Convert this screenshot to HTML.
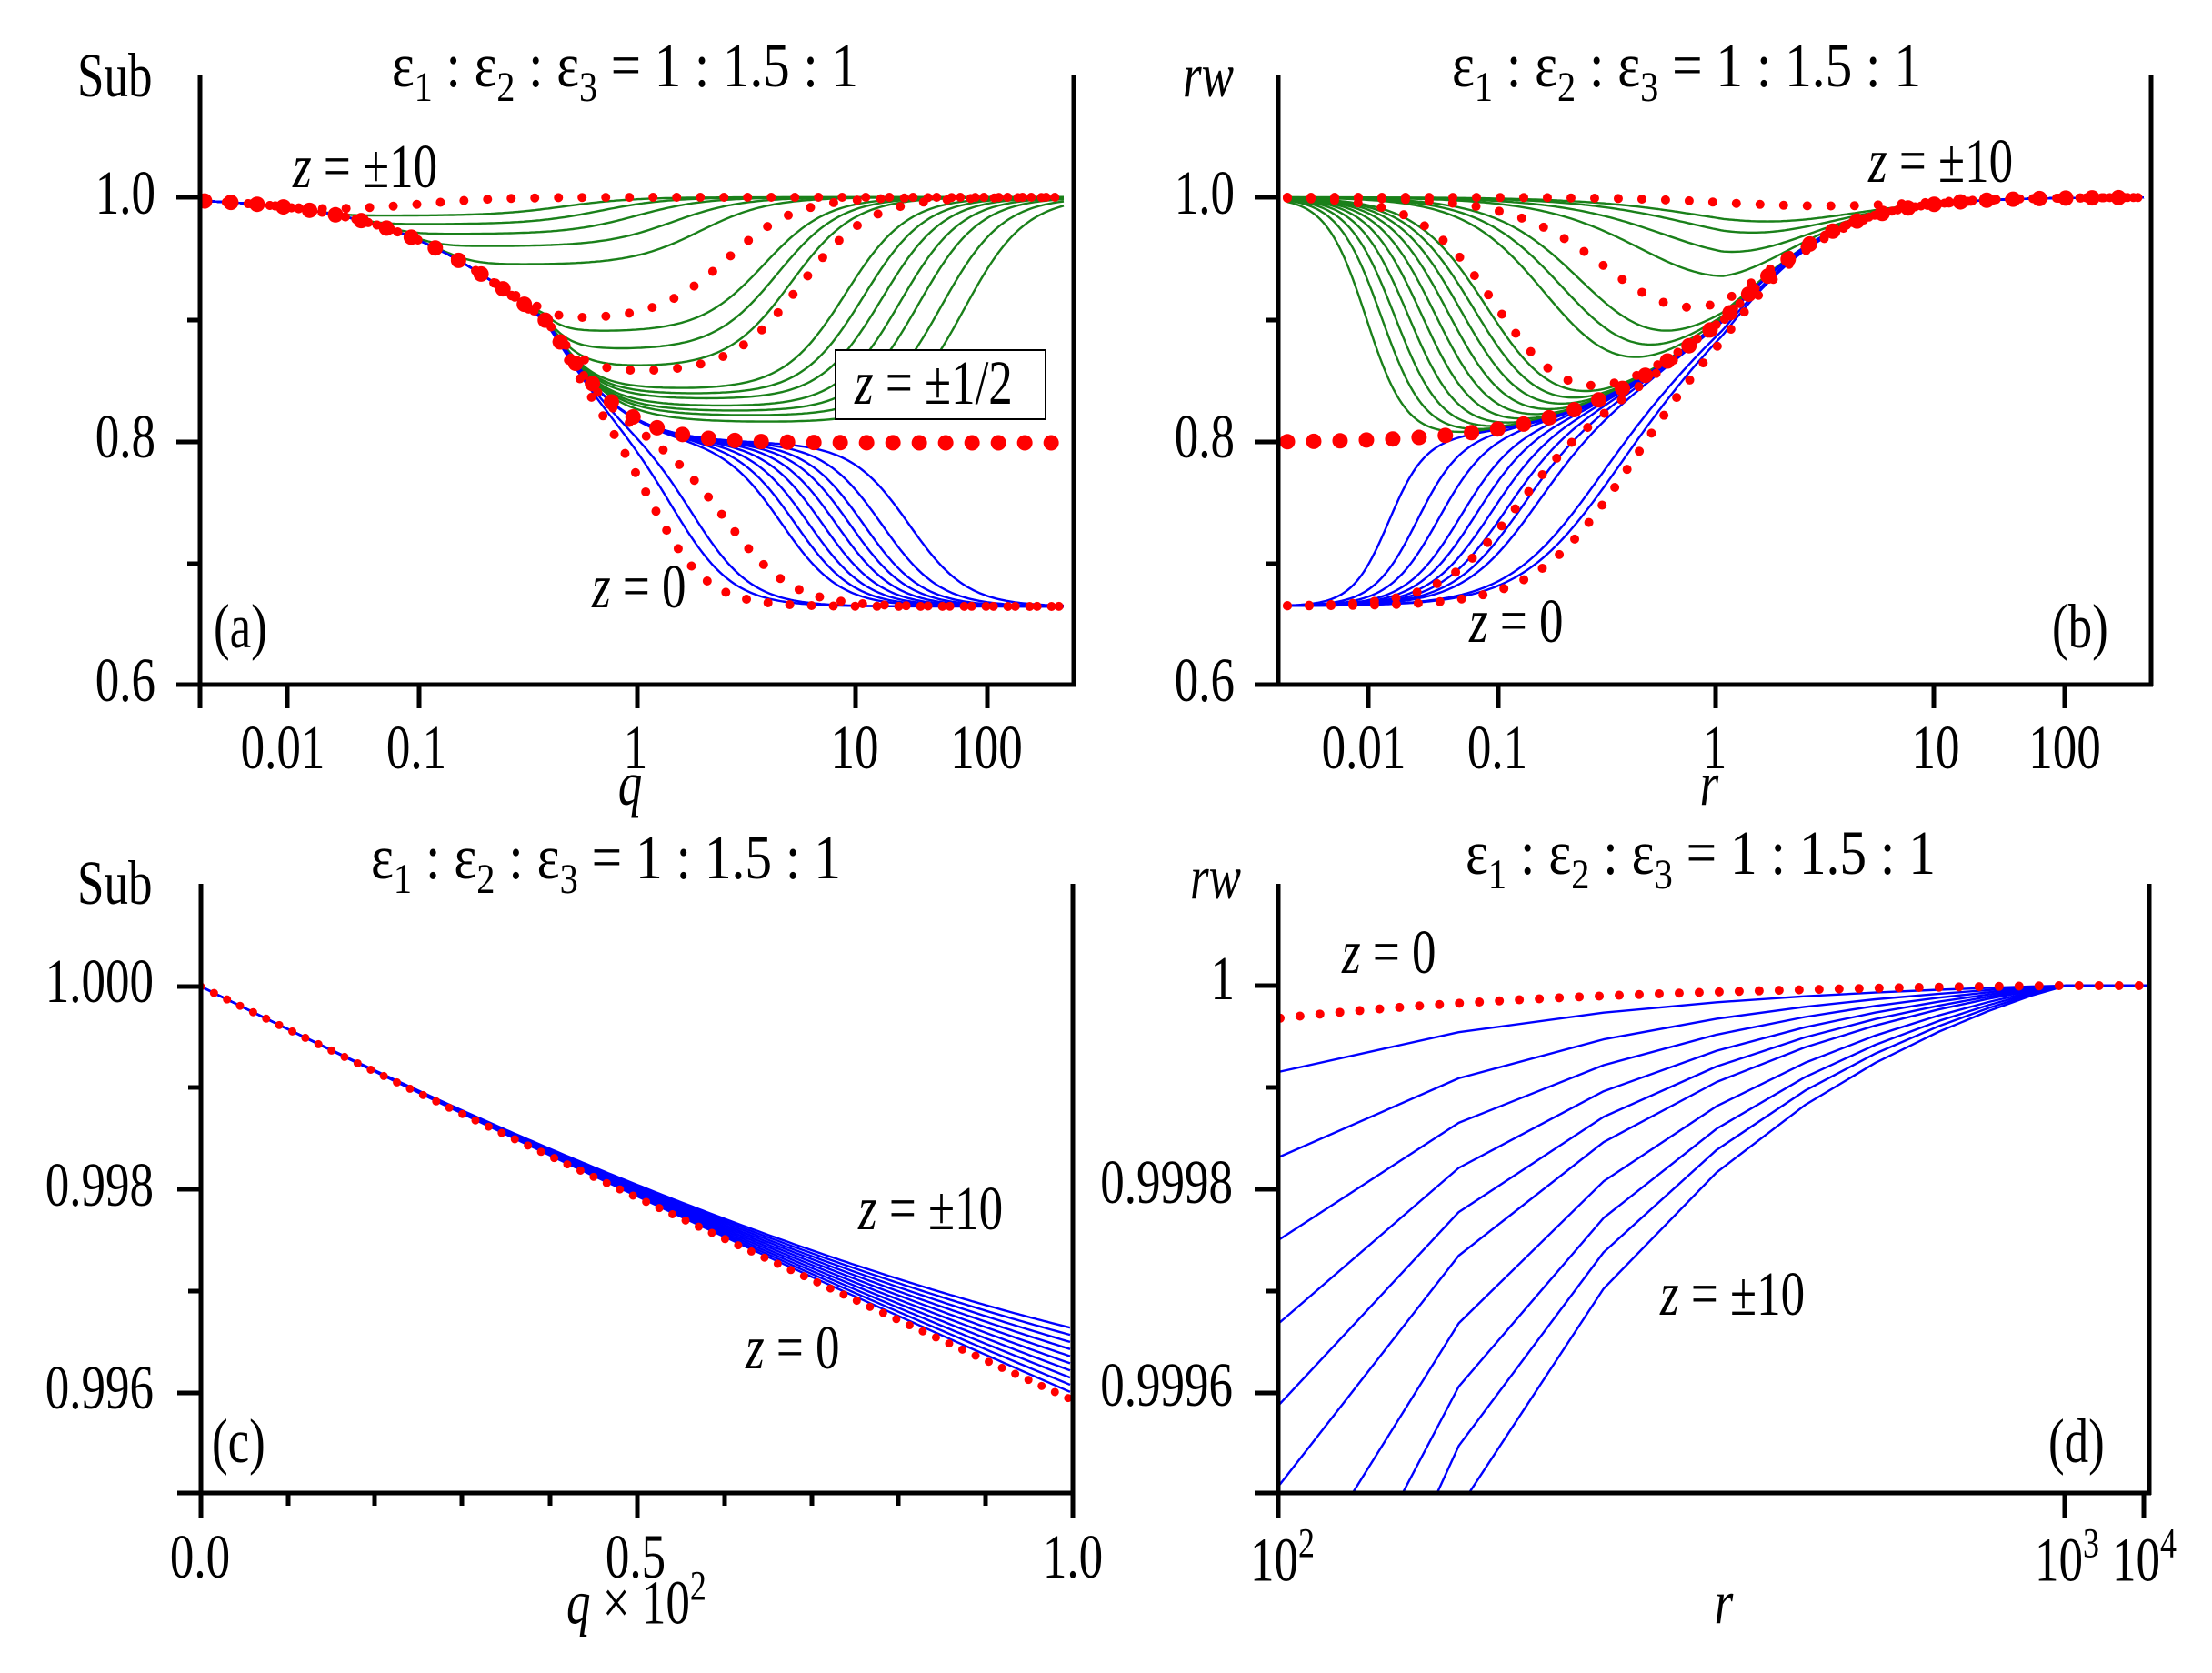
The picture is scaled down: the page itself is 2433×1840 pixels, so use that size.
<!DOCTYPE html>
<html><head><meta charset="utf-8"><style>
html,body{margin:0;padding:0;background:#fff;width:2433px;height:1840px;overflow:hidden}
svg{display:block}
text{font-family:"Liberation Serif",serif;fill:#000;transform-box:fill-box;transform-origin:50% 78%;transform:scaleY(1.3)}
.t{font-size:53px}
.i{font-style:italic}
</style></head><body>
<svg id="s" xmlns="http://www.w3.org/2000/svg" width="2433" height="1840" viewBox="0 0 2433 1840">
<defs>
<clipPath id="ca"><rect x="222" y="60" width="958" height="692"/></clipPath>
<clipPath id="cb"><rect x="1408" y="60" width="956" height="692"/></clipPath>
<clipPath id="cc"><rect x="222" y="960" width="957" height="681"/></clipPath>
<clipPath id="cd"><rect x="1408" y="960" width="955" height="681"/></clipPath>
</defs>
<g id="ga" clip-path="url(#ca)"></g>
<g id="gb" clip-path="url(#cb)"></g>
<g id="gc" clip-path="url(#cc)"></g>
<g id="gd" clip-path="url(#cd)"></g>

<g stroke="#000" stroke-width="5" fill="none">
<path d="M220 82V779 M1181 82V755 M194 753H1183"/>
<path d="M194 217H220 M194 486H220 M206 352H220 M206 620H220"/>
<path d="M316 753V779 M461 753V779 M701 753V779 M941 753V779 M1086 753V779"/>
<path d="M1406 82V755 M2366 82V755 M1380 753H2368"/>
<path d="M1380 217H1406 M1380 486H1406 M1392 352H1406 M1392 620H1406"/>
<path d="M1505 753V779 M1648 753V779 M1887 753V779 M2127 753V779 M2271 753V779"/>
<path d="M221 972V1670 M1180 972V1670 M195 1642H1182"/>
<path d="M195 1085H221 M195 1308H221 M195 1532H221 M207 1196H221 M207 1420H221"/>
<path d="M701 1642V1670 M317 1642V1656 M412 1642V1656 M508 1642V1656 M605 1642V1656 M797 1642V1656 M893 1642V1656 M988 1642V1656 M1084 1642V1656"/>
<path d="M1406 972V1670 M2364 972V1644 M1380 1642H2366"/>
<path d="M1380 1084H1406 M1380 1308H1406 M1380 1532H1406 M1392 1196H1406 M1392 1420H1406"/>
<path d="M2271 1642V1670 M2358 1642V1670"/>
</g>

<g class="t">
<text x="431" y="97" textLength="513" lengthAdjust="spacingAndGlyphs">ε<tspan dy="12" font-size="36">1</tspan><tspan dy="-12"> : ε</tspan><tspan dy="12" font-size="36">2</tspan><tspan dy="-12"> : ε</tspan><tspan dy="12" font-size="36">3</tspan><tspan dy="-12"> = 1 : 1.5 : 1</tspan></text>
<text x="1597" y="97" textLength="516" lengthAdjust="spacingAndGlyphs">ε<tspan dy="12" font-size="36">1</tspan><tspan dy="-12"> : ε</tspan><tspan dy="12" font-size="36">2</tspan><tspan dy="-12"> : ε</tspan><tspan dy="12" font-size="36">3</tspan><tspan dy="-12"> = 1 : 1.5 : 1</tspan></text>
<text x="408" y="968" textLength="517" lengthAdjust="spacingAndGlyphs">ε<tspan dy="12" font-size="36">1</tspan><tspan dy="-12"> : ε</tspan><tspan dy="12" font-size="36">2</tspan><tspan dy="-12"> : ε</tspan><tspan dy="12" font-size="36">3</tspan><tspan dy="-12"> = 1 : 1.5 : 1</tspan></text>
<text x="1612" y="963" textLength="517" lengthAdjust="spacingAndGlyphs">ε<tspan dy="12" font-size="36">1</tspan><tspan dy="-12"> : ε</tspan><tspan dy="12" font-size="36">2</tspan><tspan dy="-12"> : ε</tspan><tspan dy="12" font-size="36">3</tspan><tspan dy="-12"> = 1 : 1.5 : 1</tspan></text>

<text x="85" y="106">Sub</text>
<text x="171" y="235" text-anchor="end">1.0</text>
<text x="171" y="503" text-anchor="end">0.8</text>
<text x="171" y="771" text-anchor="end">0.6</text>
<text x="311" y="845" text-anchor="middle">0.01</text>
<text x="458" y="845" text-anchor="middle">0.1</text>
<text x="699" y="845" text-anchor="middle">1</text>
<text x="940" y="845" text-anchor="middle">10</text>
<text x="1085" y="845" text-anchor="middle">100</text>
<text x="693" y="885" text-anchor="middle" class="i">q</text>
<text x="322" y="206"><tspan class="i">z</tspan> = ±10</text>
<rect x="919" y="385" width="231" height="76" fill="#fff" stroke="#000" stroke-width="2"/>
<text x="940" y="444"><tspan class="i">z</tspan> = ±1/2</text>
<text x="651" y="668"><tspan class="i">z</tspan> = 0</text>
<text x="235" y="712">(a)</text>

<text x="1301" y="106" class="i">rw</text>
<text x="1358" y="235" text-anchor="end">1.0</text>
<text x="1358" y="503" text-anchor="end">0.8</text>
<text x="1358" y="771" text-anchor="end">0.6</text>
<text x="1500" y="845" text-anchor="middle">0.01</text>
<text x="1647" y="845" text-anchor="middle">0.1</text>
<text x="1886" y="845" text-anchor="middle">1</text>
<text x="2129" y="845" text-anchor="middle">10</text>
<text x="2271" y="845" text-anchor="middle">100</text>
<text x="1880" y="885" text-anchor="middle" class="i">r</text>
<text x="2055" y="200"><tspan class="i">z</tspan> = ±10</text>
<text x="1616" y="706"><tspan class="i">z</tspan> = 0</text>
<text x="2257" y="712">(b)</text>

<text x="85" y="994">Sub</text>
<text x="169" y="1102" text-anchor="end">1.000</text>
<text x="169" y="1326" text-anchor="end">0.998</text>
<text x="169" y="1549" text-anchor="end">0.996</text>
<text x="220" y="1735" text-anchor="middle">0.0</text>
<text x="699" y="1735" text-anchor="middle">0.5</text>
<text x="1180" y="1735" text-anchor="middle">1.0</text>
<text x="700" y="1785" text-anchor="middle"><tspan class="i">q</tspan> × 10<tspan dy="-20" font-size="36">2</tspan></text>
<text x="944" y="1352"><tspan class="i">z</tspan> = ±10</text>
<text x="820" y="1505"><tspan class="i">z</tspan> = 0</text>
<text x="233" y="1608">(c)</text>

<text x="1309" y="988" class="i">rw</text>
<text x="1358" y="1099" text-anchor="end">1</text>
<text x="1356" y="1323" text-anchor="end">0.9998</text>
<text x="1356" y="1546" text-anchor="end">0.9996</text>
<text x="1375" y="1738">10<tspan dy="-20" font-size="36">2</tspan></text>
<text x="2238" y="1738">10<tspan dy="-20" font-size="36">3</tspan></text>
<text x="2323" y="1738">10<tspan dy="-20" font-size="36">4</tspan></text>
<text x="1896" y="1785" text-anchor="middle" class="i">r</text>
<text x="1476" y="1070"><tspan class="i">z</tspan> = 0</text>
<text x="1826" y="1446"><tspan class="i">z</tspan> = ±10</text>
<text x="2253" y="1608">(d)</text>
</g>
</svg>
<script>
(function(){
var NS="http://www.w3.org/2000/svg";
var G="#1a801a",B="#0000ff",R="#ff0000";
function L(x,c,wl,wr){if(wr===undefined)wr=wl;return 1/(1+Math.exp(-(x-c)/(x<c?wl:wr)));}
function P(f,x0,x1,st){st=st||3;var d='';for(var x=x0;x<=x1+0.01;x+=st){var y=f(x);d+=(d?'L':'M')+x.toFixed(1)+' '+y.toFixed(1);}return d;}
function add(g,d,stroke,w,dash){var p=document.createElementNS(NS,'path');p.setAttribute('d',d);p.setAttribute('fill','none');p.setAttribute('stroke',stroke);p.setAttribute('stroke-width',w);p.setAttribute('stroke-linejoin','round');if(dash){p.setAttribute('stroke-dasharray',dash);p.setAttribute('stroke-linecap','round');}g.appendChild(p);}
var Y=function(v){return 217+(1-v)*1350;};
function smin(a,d){if(a<=0)return 0;return Math.pow(Math.pow(a,-8)+Math.pow(d,-8),-1/8);}

var ga=document.getElementById('ga');
var S1=function(x){return L(x,600,90,45);};
function gA(d,c,w){return function(x){return Y(1-smin(0.2*S1(x),d)*(1-L(x,c,w)));};}
function bA(c,w){return function(x){return Y(1-0.2*S1(x)-0.1333*L(x,c,w));};}
var x0=225,x1=1172;
[[0.015,620,38],[0.022,660,38],[0.03,700,38],[0.04,740,38],[0.055,770,38],[0.11,840,35],[0.125,855,35],[0.14,870,35],
 [0.16,930,34],[0.165,950,34],[0.17,970,34],[0.178,990,34],[0.184,1010,34],[0.19,1035,34],[0.2,1060,34]].forEach(function(a){add(ga,P(gA(a[0],a[1],a[2]),x0,x1),G,2.4);});
[[745,32],[765,32],[860,32],[875,32],[890,32],[905,32],[920,32],[935,32],[950,32],[970,32],[1000,32]].forEach(function(a){add(ga,P(bA(a[0],a[1]),x0,x1),B,2.4);});
add(ga,P(gA(0.01,470,40),x0,x1,2),R,10,"0 26");
add(ga,P(gA(0.1,800,38),x0,x1,2),R,10,"0 26");
add(ga,P(gA(0.145,880,38),x0,x1,2),R,10,"0 26");
add(ga,P(bA(720,30),x0,x1,2),R,10,"0 24");
add(ga,P(bA(800,36),x0,x1,2),R,10,"0 24");
add(ga,P(function(x){return Y(1-0.2*S1(x));},x0,x1,2),R,17,"0 29");

var gb=document.getElementById('gb');
var C=function(x){return 0.8+0.2*L(x,1895,88,66);};
function gBf(c,w){return function(x){return Y(1-(1-C(x))*L(x,c,w));};}
function bBf(c,w){return function(x){return Y(0.667+(C(x)-0.667)*L(x,c,w));};}
var u0=1416,u1=2358;
[[1503,22],[1520,24],[1535,26],[1550,28],[1565,30],[1580,32],[1595,34],[1610,36],[1625,38],[1640,40],[1712,46],[1735,48],[1760,50],[1860,60],[1910,64],[1960,66],[2000,68]].forEach(function(a){add(gb,P(gBf(a[0],a[1]),u0,u1),G,2.4);});
[[1527,20],[1558,24],[1581,27],[1604,30],[1620,32],[1636,34],[1651,36],[1667,38],[1682,40],[1735,48],[1750,50]].forEach(function(a){add(gb,P(bBf(a[0],a[1]),u0,u1),B,2.4);});
add(gb,P(gBf(1651,42),u0,u1,2),R,10,"0 26");
add(gb,P(gBf(1800,55),u0,u1,2),R,10,"0 26");
add(gb,P(gBf(2080,60),u0,u1,2),R,10,"0 26");
add(gb,P(bBf(1660,42),u0,u1,2),R,10,"0 24");
add(gb,P(bBf(1765,50),u0,u1,2),R,10,"0 24");
add(gb,P(function(x){return Y(C(x));},u0,u1,2),R,17,"0 29");

var gc=document.getElementById('gc');
var red=function(t){return 1085+473*t-18*t*t;};
for(var k=10;k>=1;k--){(function(D){add(gc,P(function(x){var t=(x-221)/959;return red(t)-D*Math.pow(t,2.5);},221,1180,4),B,2.4);})(k*7.9);}
add(gc,P(function(x){var t=(x-221)/959;return red(t);},221,1180,2),R,9,"0 16");

var gd=document.getElementById('gd');
function f(t){if(t>=0.9)return 0;return (Math.exp(-2.6*t)-Math.exp(-2.34))/(1-Math.exp(-2.34));}
var vz=[245,500,705,865,990,1090,1180,1250,1310,1360,1410,1480];
var vx=vz.map(function(z){return z/1.287+1216;});
[95,189,280,372,462,551,689,818,939,1067].forEach(function(d0){
  var d='';vx.forEach(function(x,i){var t=(x-1406)/958;var y=1084+d0*f(t);d+=(i?'L':'M')+x.toFixed(1)+' '+y.toFixed(1);});
  add(gd,d,B,2.4);
});
add(gd,P(function(x){var t=(x-1406)/958;return 1084+36*f(t);},1408,2362,2),R,10,"0 22");
})();
</script>
</body></html>
